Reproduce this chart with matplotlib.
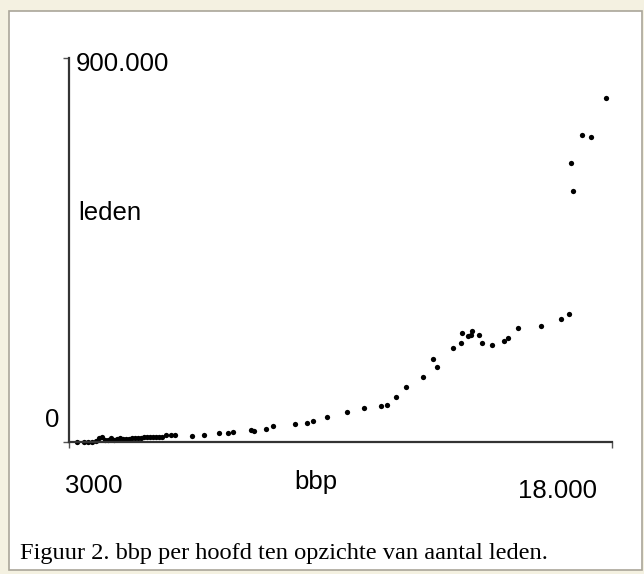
import matplotlib
matplotlib.use("Agg")
import matplotlib.pyplot as plt
from matplotlib.patches import Rectangle

# bbp per hoofd (x) en aantal leden (y)
bbp = [3240, 3440, 3560, 3680, 3800, 3880, 3970, 4060, 4150, 4240,
       4330, 4410, 4500, 4590, 4680, 4770, 4860, 4950, 5030, 5120,
       5210, 5300, 5390, 5480, 5560, 5650, 5740, 5860, 6010, 6120,
       6620, 6980, 7420, 7690, 7830, 8360, 8450, 8800, 9010, 9660,
       10010, 10190, 10600, 11190, 11690, 12190, 12370, 12640, 12930, 13430,
       13730, 13840, 14310, 14550, 14580, 14760, 14850, 14870, 15080, 15170,
       15460, 15820, 15940, 16230, 16910, 17500, 17730, 17850, 17790, 18120,
       18380, 18820]
leden = [0, 0, 0, 1000, 2000, 9000, 12000, 5000, 5000, 9000,
         5000, 7000, 9000, 7000, 7000, 7000, 9000, 9000, 9000, 9000,
         12000, 12000, 12000, 12000, 12000, 12000, 12000, 16000, 16000, 16000,
         14000, 16000, 21000, 21000, 23000, 28000, 26000, 30000, 37000, 42000,
         45000, 49000, 59000, 70000, 80000, 84000, 87000, 105000, 129000, 152000,
         195000, 176000, 220000, 232000, 255000, 248000, 251000, 260000, 251000, 232000,
         227000, 237000, 244000, 267000, 272000, 288000, 300000, 588000, 654000, 720000,
         715000, 806000]

x_range = (3000, 19000)
y_range = (0, 900000)

W, H = 644, 574
fig = plt.figure(figsize=(W / 100, H / 100), dpi=100)
fig.patch.set_facecolor("#f4f1e1")

# inner white panel with a thin frame (behind the axes)
fig.patches.append(Rectangle((9 / W, 1 - 570 / H), 633 / W, 559 / H,
                             transform=fig.transFigure, facecolor="white",
                             edgecolor="#aaa699", linewidth=1.2, zorder=-10))

def px(x, y):
    return x / W, 1 - y / H

ax = fig.add_axes([69 / W, 1 - 442 / H, 543 / W, 384 / H])
ax.set_facecolor("none")
ax.plot(bbp, leden, "o", color="black", markersize=3.8, markeredgewidth=0,
        clip_on=False)
ax.set_xlim(*x_range)
ax.set_ylim(*y_range)
ax.set_xticks(x_range)
ax.set_yticks(y_range)
ax.set_xticklabels([])
ax.set_yticklabels([])
ax.tick_params(direction="out", length=4, width=1, color="#555555")
for s in ["top", "right"]:
    ax.spines[s].set_visible(False)
for s in ["left", "bottom"]:
    ax.spines[s].set_linewidth(1.6)
    ax.spines[s].set_color("#333333")

sans = "Liberation Sans"
fs = 18.5
fig.text(*px(76, 71), "900.000", fontsize=fs, family=sans, va="baseline")
fig.text(*px(78, 220), "leden", fontsize=fs, family=sans, va="baseline")
fig.text(*px(45, 427), "0", fontsize=fs, family=sans, va="baseline")
fig.text(*px(65, 493), "3000", fontsize=fs, family=sans, va="baseline")
fig.text(*px(294, 489), "bbp", fontsize=fs, family=sans, va="baseline")
fig.text(*px(518, 498), "18.000", fontsize=fs, family=sans, va="baseline")

fig.text(*px(20, 559), "Figuur 2. bbp per hoofd ten opzichte van aantal leden.",
         fontsize=17.6, family="Liberation Serif", va="baseline")

fig.savefig("out.png", dpi=100, facecolor=fig.get_facecolor())
